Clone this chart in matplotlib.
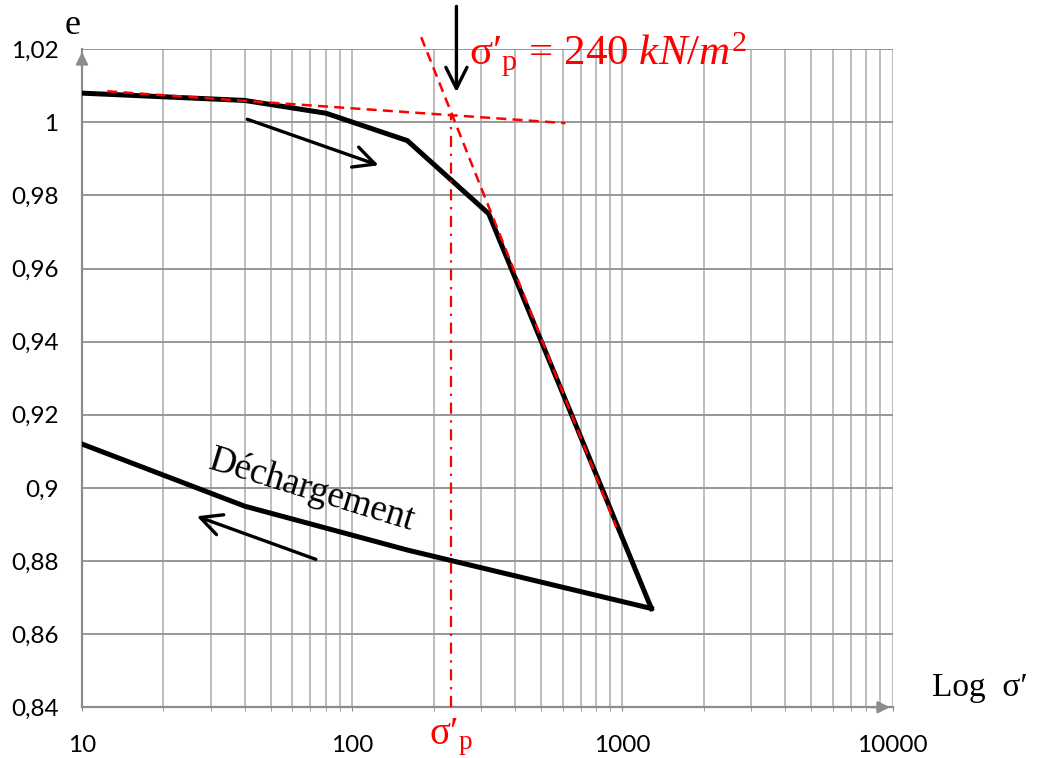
import matplotlib.pyplot as plt
from matplotlib.ticker import LogLocator, FixedLocator, FuncFormatter, NullFormatter
import matplotlib.transforms as mtransforms

plt.rcParams['mathtext.fontset'] = 'custom'
plt.rcParams['mathtext.rm'] = 'Liberation Serif'
plt.rcParams['mathtext.it'] = 'Liberation Serif:italic'

# courbe de chargement
sig_charge = [10, 40, 80, 160, 320, 1280]
e_charge = [1.008, 1.006, 1.0025, 0.995, 0.975, 0.867]
# courbe de déchargement
sig_decharge = [1280, 160, 40, 10]
e_decharge = [0.867, 0.883, 0.895, 0.912]

# tangentes (construction de Casagrande)
sig_tan1 = [12.4, 615]
e_tan1 = [1.0085, 0.9998]
sig_tan2 = [180, 950]
e_tan2 = [1.0233, 0.8892]
sig_p = 233
e_p = 1.0022

# flèches
fl_charge = [(40, 1.0011), (128, 0.988)]
fl_decharge = [(75, 0.8802), (26, 0.8925)]
fl_sigp = [(243, 1.0325), (243, 1.0075)]

e_ticks = [0.84, 0.86, 0.88, 0.90, 0.92, 0.94, 0.96, 0.98, 1.00, 1.02]
sig_ticks = [10, 100, 1000, 10000]

serif = ['Liberation Serif', 'DejaVu Serif']

fig = plt.figure(figsize=(10.38, 7.58), dpi=100)
ax = fig.add_axes([0.079, 0.067, 0.781, 0.868])

ax.set_xscale('log')
ax.set_xlim(10, 10000)
ax.set_ylim(0.84, 1.02)

ax.xaxis.set_major_locator(FixedLocator(sig_ticks))
ax.xaxis.set_minor_locator(LogLocator(base=10, subs=range(2, 10)))
ax.xaxis.set_major_formatter(FuncFormatter(lambda v, p: '%d' % v))
ax.xaxis.set_minor_formatter(NullFormatter())
ax.yaxis.set_major_locator(FixedLocator(e_ticks))


def fmt_e(v, p):
    s = ('%.2f' % v).rstrip('0').rstrip('.')
    return s.replace('.', ',')


ax.yaxis.set_major_formatter(FuncFormatter(fmt_e))

# grille
ax.grid(which='major', axis='y', color='#969696', lw=1.4)
ax.grid(which='both', axis='x', color='#bdbdbd', lw=1.4)
ax.set_axisbelow(True)

for s in ['top', 'right']:
    ax.spines[s].set_visible(False)
for s in ['left', 'bottom']:
    ax.spines[s].set_color('#8c8c8c')
    ax.spines[s].set_linewidth(1.6)

ax.tick_params(axis='both', which='both', length=0, pad=17, labelsize=17.5)
ax.tick_params(axis='x', which='both', length=3, color='#8c8c8c', direction='out')
for lab in ax.get_xticklabels() + ax.get_yticklabels():
    lab.set_family(['Lato', 'DejaVu Sans'])

# flèches des axes
ax.annotate('', xy=(0, 1.0), xytext=(0, 0.97), xycoords='axes fraction',
            arrowprops=dict(arrowstyle='-|>', color='#8c8c8c', lw=1.6, mutation_scale=18),
            annotation_clip=False)
ax.annotate('', xy=(1.0, 0), xytext=(0.97, 0), xycoords='axes fraction',
            arrowprops=dict(arrowstyle='-|>', color='#8c8c8c', lw=1.6, mutation_scale=18),
            annotation_clip=False)

# tangentes
ax.plot(sig_tan1, e_tan1, color='red', lw=1.8, ls=(0, (4, 2.5)), clip_on=False, zorder=4)
ax.plot(sig_tan2, e_tan2, color='red', lw=1.8, ls=(0, (4, 2.5)), clip_on=False, zorder=4)
ax.plot([sig_p, sig_p], [0.84, e_p], color='red', lw=1.6, ls=(0, (5, 3, 1, 3)), zorder=4)

# courbes
ax.plot(sig_charge, e_charge, color='black', lw=3.6, solid_joinstyle='miter', zorder=3)
ax.plot(sig_decharge, e_decharge, color='black', lw=3.6, solid_joinstyle='miter', zorder=3)

# flèches
for f in [fl_charge, fl_decharge, fl_sigp]:
    ax.annotate('', xy=f[1], xytext=f[0],
                arrowprops=dict(arrowstyle='->', color='black', lw=2.4, mutation_scale=38),
                annotation_clip=False)

# textes
ax.text(-0.011, 1.036, 'e', transform=ax.transAxes, ha='center', va='center',
        fontsize=26, family=serif)
ax.text(1.108, 0.03, 'Log  σ′', transform=ax.transAxes, ha='center', va='center',
        fontsize=24, family=serif)
ax.text(0.477, 0.975, r'σ′$_{\mathrm{p}}$ = 240 $kN/m^{2}$', transform=ax.transAxes,
        ha='left', va='baseline', color='red', fontsize=31, family=serif)
trans = mtransforms.blended_transform_factory(ax.transData, ax.transAxes)
ax.text(sig_p, -0.045, r'σ′$_{\mathrm{p}}$', transform=trans, ha='center', va='center',
        color='red', fontsize=28, family=serif)
ax.text(0.284, 0.33, 'Déchargement', transform=ax.transAxes, ha='center', va='center',
        rotation=-17, fontsize=26.5, family=serif)

plt.savefig('out.png', dpi=100)
